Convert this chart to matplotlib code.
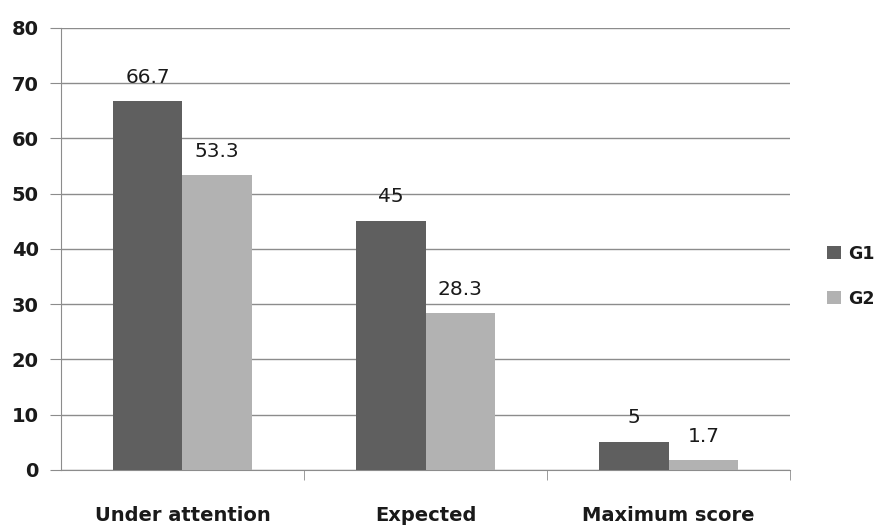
import numpy as np
import matplotlib.pyplot as plt

categories = ['Under attention', 'Expected', 'Maximum score']
g1 = [66.7, 45, 5]
g2 = [53.3, 28.3, 1.7]
g1_labels = ['66.7', '45', '5']
g2_labels = ['53.3', '28.3', '1.7']

plt.rcParams['font.family'] = ['DejaVu Sans']

fig = plt.figure(figsize=(8.82, 5.25), dpi=100)
ax = fig.add_axes([0.069, 0.105, 0.827, 0.842])

x = np.arange(len(categories))
w = 0.285
b1 = ax.bar(x - w/2, g1, w, color='#5f5f5f', label='G1', zorder=3)
b2 = ax.bar(x + w/2, g2, w, color='#b2b2b2', label='G2', zorder=3)

# value labels sit a little above each bar
for bars, texts in [(b1, g1_labels), (b2, g2_labels)]:
    for bar, txt in zip(bars, texts):
        ax.text(bar.get_x() + bar.get_width()/2, bar.get_height() + 3.4, txt,
                ha='center', va='baseline', fontsize=14.5, color='#1a1a1a')

ax.set_xlim(-0.5, 2.5)
ax.set_ylim(0, 80)
ax.set_yticks(np.arange(0, 81, 10))
ax.yaxis.grid(True, color='#8c8c8c', linewidth=1, zorder=0)

ax.set_xticks(x)
ax.set_xticklabels(categories, fontsize=14, fontweight='bold', color='#1a1a1a')
ax.set_xticks([0.5, 1.5, 2.5], minor=True)
ax.tick_params(axis='x', which='major', length=0, pad=26)
ax.tick_params(axis='x', which='minor', length=7, color='#8c8c8c')
ax.tick_params(axis='y', length=8, color='#8c8c8c', labelsize=14, pad=8)
for t in ax.get_yticklabels():
    t.set_fontweight('bold')
    t.set_color('#1a1a1a')

for s in ['top', 'right']:
    ax.spines[s].set_visible(False)
for s in ['left', 'bottom']:
    ax.spines[s].set_color('#8c8c8c')

leg = ax.legend(loc='center left', bbox_to_anchor=(0.928, 0.474),
                bbox_transform=fig.transFigure, frameon=False, borderpad=0,
                fontsize=12.5, handlelength=0.8, handleheight=0.8,
                handletextpad=0.4, labelspacing=1.55)
for t in leg.get_texts():
    t.set_fontweight('bold')
    t.set_color('#1a1a1a')

fig.savefig('out.png', dpi=100)
